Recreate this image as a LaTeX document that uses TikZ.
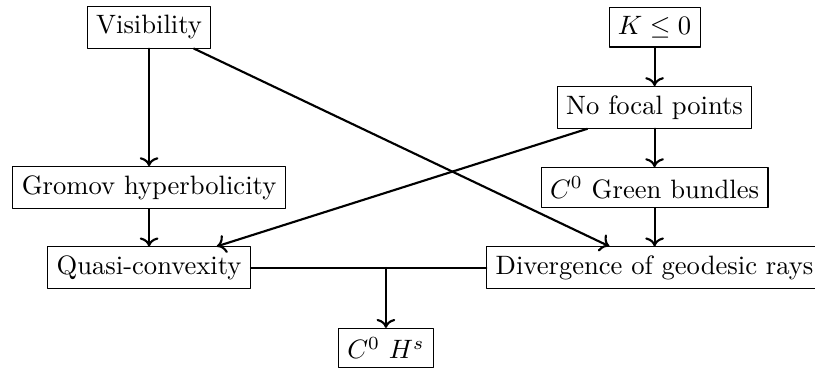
\documentclass[tikz,border=0pt]{standalone}
\usepackage{amsmath,amssymb}
\usepackage{tikz}
\usetikzlibrary{arrows.meta, calc}

\begin{document}
\begin{tikzpicture}[line cap=round, line join=round,
		box/.style={draw, rectangle, inner sep=3.33pt}]
				\useasboundingbox (0,-0.26) rectangle (10.77,4.6);
				\node[box] (vis) at (1.97,4.24) {Visibility};
				\node[box] (kneg) at (8.65,4.24) {$K\leq 0$};
				\node[box] (nofocal) at (8.65,3.18) {No focal points};
				\node[box] (gromov) at (1.97,2.12) {Gromov hyperbolicity};
				\node[box] (green) at (8.65,2.12) {$C^0$ Green bundles};
				\node[box] (quasi) at (1.97,1.06) {Quasi-convexity};
				\node[box] (div) at (8.65,1.06) {Divergence of geodesic rays};
				\node[box] (hs) at (5.10,0) {$C^0$ $H^s$};
				\coordinate (join) at (hs |- quasi);
				\draw[thick,->] (vis)--(gromov);
				\draw[thick,->] (gromov)--(quasi);
				\draw[thick,->] (vis)--(div);
				\draw[thick,->] (kneg)--(nofocal);
				\draw[thick,->] (nofocal)--(green);
				\draw[thick,->] (green)--(div);
				\draw[thick,->] (nofocal)--(quasi);
				\draw[thick] (quasi)--(div);
				\draw[thick,->] (join)--(hs);
			\end{tikzpicture}
\end{document}
